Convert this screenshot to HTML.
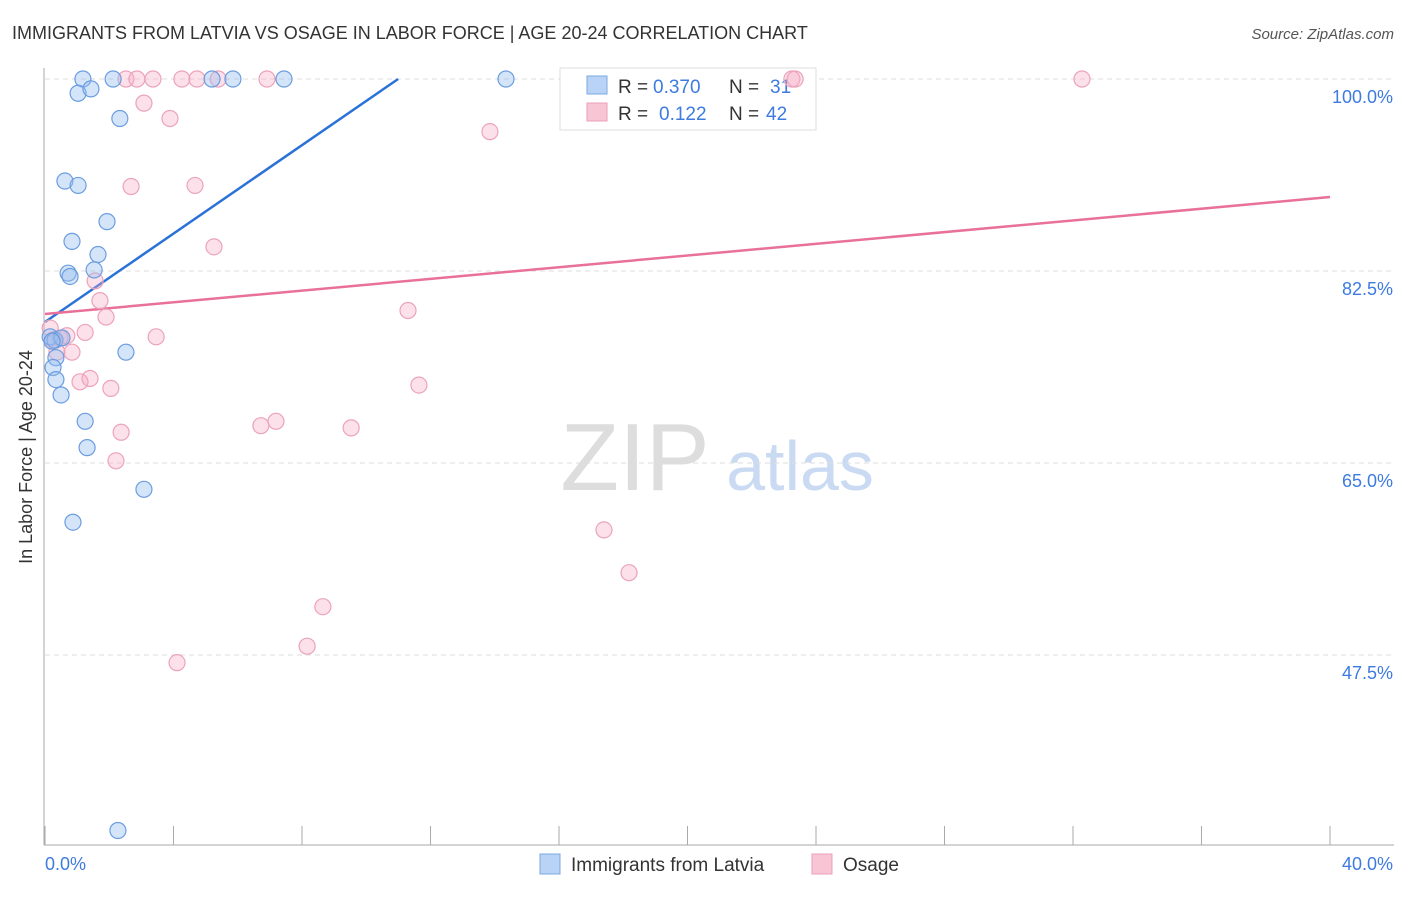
<!DOCTYPE html>
<html><head><meta charset="utf-8"><style>
body{margin:0;background:#fff;font-family:"Liberation Sans",sans-serif;}
svg text{font-family:"Liberation Sans",sans-serif;}
</style></head><body>
<svg id="chart" width="1406" height="892" xmlns="http://www.w3.org/2000/svg">
<text x="12" y="39" font-size="18" fill="#333">IMMIGRANTS FROM LATVIA VS OSAGE IN LABOR FORCE | AGE 20-24 CORRELATION CHART</text>
<text x="1394" y="39" font-size="15" fill="#555" text-anchor="end" font-style="italic">Source: ZipAtlas.com</text>
<text x="32" y="457" font-size="18" fill="#333" text-anchor="middle" transform="rotate(-90 32 457)">In Labor Force | Age 20-24</text>
<g><text x="635" y="490" font-size="96" font-family="Liberation Serif" fill="#ddd" text-anchor="middle">ZIP</text><text x="800" y="490" font-size="70" fill="#c9daf2" text-anchor="middle">atlas</text></g>
<g id="grid"></g><g id="axes"></g>
<g>
<rect x="560" y="68" width="256" height="62" fill="#fff" stroke="#ddd"/>
<rect x="587" y="76" width="20" height="18" fill="#b8d3f5" stroke="#7aa8e0"/>
<text x="618" y="93" font-size="19" fill="#333">R =</text><text x="653" y="93" font-size="19" fill="#3d7be0">0.370</text>
<text x="729" y="93" font-size="19" fill="#333">N =</text><text x="770" y="93" font-size="19" fill="#3d7be0">31</text>
<rect x="587" y="103" width="20" height="18" fill="#f8c5d5" stroke="#eaa0b8"/>
<text x="618" y="120" font-size="19" fill="#333">R =</text><text x="659" y="120" font-size="19" fill="#3d7be0">0.122</text>
<text x="729" y="120" font-size="19" fill="#333">N =</text><text x="766" y="120" font-size="19" fill="#3d7be0">42</text>
</g>
<g id="lines"></g><g id="pts"></g>
<g>
<rect x="540" y="854" width="20" height="20" fill="#b8d3f5" stroke="#7aa8e0"/>
<text x="571" y="871" font-size="19" fill="#333">Immigrants from Latvia</text>
<rect x="812" y="854" width="20" height="20" fill="#f8c5d5" stroke="#eaa0b8"/>
<text x="843" y="871" font-size="19" fill="#333">Osage</text>
</g>
</svg>
<script>
const yTicks=[100,82.5,65,47.5];
const yTickLabels=["100.0%","82.5%","65.0%","47.5%"];
const xTickLabels=["0.0%","40.0%"];
const latviaX=[1.18,2.12,5.20,5.85,7.44,14.35,1.03,1.43,2.33,0.62,1.03,1.93,0.84,1.65,0.72,0.78,1.53,0.16,0.31,0.53,2.52,0.34,0.25,0.34,0.50,1.25,1.31,3.08,0.87,2.27,0.22];
const latviaY=[100,100,100,100,100,100,98.7,99.1,96.4,90.7,90.3,87.0,85.2,84.0,82.3,82.0,82.6,76.5,76.2,76.4,75.1,74.6,73.7,72.6,71.2,68.8,66.4,62.6,59.6,31.5,76.1];
const osageX=[2.52,2.86,3.36,4.26,4.73,5.39,6.91,23.25,23.35,32.28,3.08,3.89,13.85,2.68,4.67,5.26,1.56,1.71,1.90,11.30,1.25,3.46,0.68,0.47,0.25,0.84,0.37,1.09,1.40,2.05,11.64,7.19,6.72,9.53,2.37,2.21,17.40,18.18,8.65,8.16,4.11,0.16];
const osageY=[100,100,100,100,100,100,100,100,100,100,97.8,96.4,95.2,90.2,90.3,84.7,81.6,79.8,78.3,78.9,76.9,76.5,76.6,76.4,76.2,75.1,75.1,72.4,72.7,71.8,72.1,68.8,68.4,68.2,67.8,65.2,58.9,55.0,51.9,48.3,46.8,77.3];
const latviaTrend=[77.85,2.015];
const osageTrend=[78.58,0.2665];
const X=v=>45+v*32.125, Y=v=>79+(100-v)*10.971;
const NS="http://www.w3.org/2000/svg";
function mk(p,t,a){const e=document.createElementNS(NS,t);for(const k in a)e.setAttribute(k,a[k]);document.getElementById(p).appendChild(e);return e;}
yTicks.forEach((t,i)=>{
 const l=mk('grid','line',{x1:45,x2:1394,y1:Y(t),y2:Y(t),stroke:'#ddd','stroke-dasharray':'5,4'});
 
 
 const tx=mk('grid','text',{x:1393,y:Y(t)+24,'font-size':18,fill:'#3d7be0','text-anchor':'end'});tx.textContent=yTickLabels[i];
 
 
});
mk('axes','line',{x1:44,x2:44,y1:68,y2:845,stroke:'#aaa'});
mk('axes','line',{x1:44,x2:1394,y1:845,y2:845,stroke:'#aaa'});
for(let i=0;i<=10;i++){mk('axes','line',{x1:X(i*4),x2:X(i*4),y1:826,y2:845,stroke:'#aaa'});}
[[0,45,'start'],[40,1393,'end']].forEach((d,i)=>{const t=mk('axes','text',{x:d[1],y:870,'font-size':18,fill:'#3d7be0','text-anchor':d[2]});t.textContent=xTickLabels[i];
 
 });
const bEnd=(100-latviaTrend[0])/latviaTrend[1];
const bl=mk('lines','line',{x1:X(0),y1:Y(latviaTrend[0]),x2:X(bEnd),y2:Y(100),stroke:'#2a72d8','stroke-width':2.5});


const pl=mk('lines','line',{x1:X(0),y1:Y(osageTrend[0]),x2:X(40),y2:Y(osageTrend[0]+osageTrend[1]*40),stroke:'#e8709a','stroke-width':2.5});


osageX.forEach((x,i)=>{const c=mk('pts','circle',{cx:X(x),cy:Y(osageY[i]),r:8,fill:'rgba(245,170,195,0.35)',stroke:'#eba3bb','stroke-width':1.2});
 
 });
latviaX.forEach((x,i)=>{const c=mk('pts','circle',{cx:X(x),cy:Y(latviaY[i]),r:8,fill:'rgba(150,190,240,0.4)',stroke:'#6b9de0','stroke-width':1.2});
 
 });
</script>
</body></html>
